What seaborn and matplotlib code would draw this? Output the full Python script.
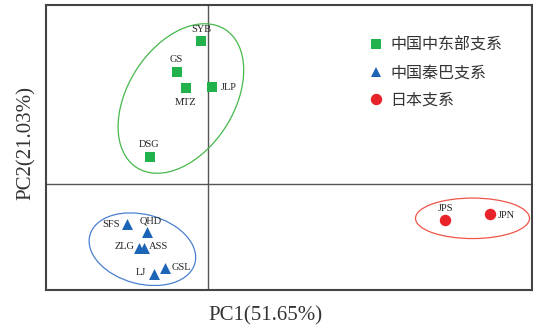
import matplotlib
matplotlib.use("Agg")
import matplotlib.pyplot as plt
from matplotlib.patches import Ellipse
from matplotlib.lines import Line2D
import seaborn as sns
import pandas as pd

# PCA scores of the populations
populations = ["SYB", "GS", "MTZ", "JLP", "DSG",
               "SFS", "QHD", "ZLG", "ASS", "LJ", "GSL",
               "JPS", "JPN"]
pc1 = [-0.075, -0.313, -0.221, 0.037, -0.585,
       -0.816, -0.612, -0.697, -0.639, -0.548, -0.439,
       2.369, 2.811]
pc2 = [1.430, 1.119, 0.955, 0.962, 0.270,
       -0.406, -0.489, -0.647, -0.647, -0.901, -0.847,
       -0.369, -0.305]
groups = ["中国中东部支系"] * 5 + ["中国秦巴支系"] * 6 + ["日本支系"] * 2
group_order = ["中国中东部支系", "中国秦巴支系", "日本支系"]

# Confidence ellipses per group: centre x, centre y, width, height, angle
ellipse_center_x = [-0.275, -0.660, 2.641]
ellipse_center_y = [0.850, -0.657, -0.348]
ellipse_width = [1.64, 1.087, 1.14]
ellipse_height = [1.06, 0.694, 0.405]
ellipse_angle = [57.4, -14.9, 0.0]

df = pd.DataFrame({"pop": populations, "PC1": pc1, "PC2": pc2, "group": groups})

marker_colors = {"中国中东部支系": "#22b24c", "中国秦巴支系": "#1c64b6", "日本支系": "#e9232a"}
ring_colors = ["#45b84a", "#4a80cf", "#ee5548"]
markers = {"中国中东部支系": "s", "中国秦巴支系": "^", "日本支系": "o"}
marker_sizes = {"中国中东部支系": 55, "中国秦巴支系": 62, "日本支系": 68}

# label offsets (points) from each marker
label_offsets = {
    "SYB": (0, 8.2), "GS": (-0.3, 8.9), "MTZ": (-0.4, -10.5), "JLP": (12.1, -0.2),
    "DSG": (-0.5, 8.6), "SFS": (-11.4, 0), "QHD": (2.2, 7.9), "ZLG": (-10.3, 1.4),
    "ASS": (10.3, 1.2), "LJ": (-9.4, 0.7), "GSL": (12.0, 0.7), "JPS": (0, 8.4),
    "JPN": (12.0, -1.2),
}

sns.set_theme(style="white")
plt.rcParams["font.family"] = ["Noto Sans CJK SC", "DejaVu Sans"]

fig = plt.figure(figsize=(5.33, 3.29), dpi=100)
ax = fig.add_axes([0.0863, 0.1185, 0.9109, 0.8663])

for g in group_order:
    sub = df[df["group"] == g]
    sns.scatterplot(data=sub, x="PC1", y="PC2", marker=markers[g],
                    color=marker_colors[g], s=marker_sizes[g], linewidth=0,
                    ax=ax, legend=False, zorder=3)

for cx, cy, w, h, a, c in zip(ellipse_center_x, ellipse_center_y, ellipse_width,
                              ellipse_height, ellipse_angle, ring_colors):
    ax.add_patch(Ellipse((cx, cy), w, h, angle=a, fill=False, edgecolor=c,
                         linewidth=0.9, zorder=2))

for name, x, y in zip(populations, pc1, pc2):
    dx, dy = label_offsets[name]
    ax.annotate(name, (x, y), xytext=(dx, dy), textcoords="offset points",
                ha="center", va="center", fontsize=7.5, color="#222222",
                family="Liberation Serif", zorder=4)

ax.axvline(0, color="#555555", linewidth=1.0, zorder=1)
ax.axhline(0, color="#555555", linewidth=1.0, zorder=1)

ax.set_xlim(-1.624, 3.231)
ax.set_ylim(-1.065, 1.785)
ax.set_xticks([])
ax.set_yticks([])
for sp in ax.spines.values():
    sp.set_visible(True)
    sp.set_color("#444444")
    sp.set_linewidth(1.5)

ax.set_xlabel("PC1(51.65%)", family="Liberation Serif", fontsize=15, color="#333333")
ax.set_ylabel("PC2(21.03%)", family="Liberation Serif", fontsize=15, color="#333333")
ax.xaxis.set_label_coords(0.451, -0.058)
ax.yaxis.set_label_coords(-0.021, 0.515)

handles = [Line2D([], [], linestyle="none", marker=markers[g], color=marker_colors[g],
                  markersize=7.5 if g != "日本支系" else 8.2, markeredgewidth=0)
           for g in group_order]
leg = ax.legend(handles, group_order, loc="upper left", bbox_to_anchor=(0.637, 0.935),
                frameon=False, fontsize=11.5, handlelength=1.0, handletextpad=0.4,
                labelspacing=0.68, borderpad=0.3)
for t in leg.get_texts():
    t.set_color("#333333")

fig.savefig("out.png", dpi=100)
